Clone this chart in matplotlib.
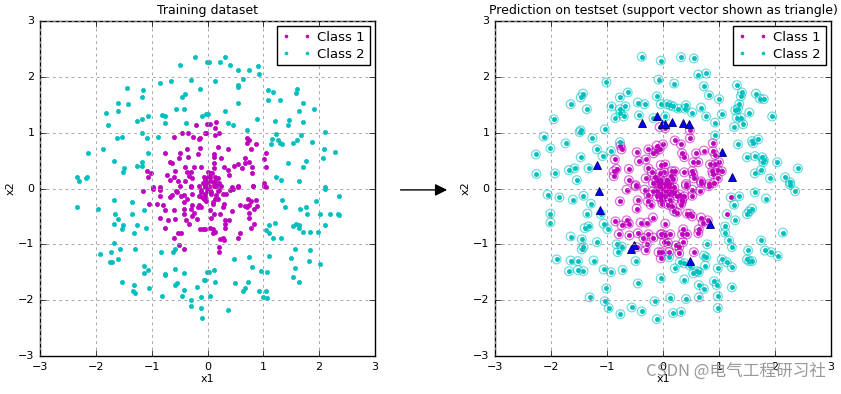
import matplotlib; matplotlib.use("Agg")
import matplotlib.pyplot as plt
import numpy as np
from matplotlib.patches import FancyArrowPatch

plt.style.use("classic")

# training set (x1, x2)
train_class1 = np.array([
 [-0.20,1.13],[-0.01,1.16],[-0.45,1.00],[-0.35,1.00],[-0.04,1.00],[-0.60,0.93],[-0.26,0.93],[-0.13,0.91],[-0.15,0.88],
 [-0.36,0.71],[-0.13,0.73],[-0.77,0.63],[-0.49,0.63],[-0.17,0.61],[-0.35,0.57],[-0.51,0.55],[-0.67,0.48],[-0.63,0.45],
 [-0.40,0.39],[-0.11,0.38],[-0.24,0.38],[-0.58,0.32],[-1.08,0.32],[-1.01,0.27],[-0.36,0.29],[-0.29,0.29],[-0.72,0.25],
 [-0.60,0.21],[-1.06,0.21],[-0.33,0.23],[-0.67,0.16],[-0.52,0.14],[-0.40,0.13],[-0.27,0.18],[-0.04,0.07],[-0.08,0.09],
 [-0.01,0.11],[-0.97,0.02],[-0.86,0.02],[-0.29,0.04],[-0.49,0.04],
 [0.04,1.16],[0.16,1.20],[0.14,1.09],[-0.02,1.00],[0.13,0.95],[0.21,1.00],[0.18,0.75],[0.36,0.70],[0.11,0.61],[0.11,0.57],
 [0.25,0.55],[0.00,0.30],[0.11,0.36],[0.11,0.46],[0.29,0.38],[0.36,0.34],[0.38,0.25],[0.48,0.41],[0.55,0.43],[0.61,0.36],
 [0.68,0.55],[0.68,0.46],[0.75,0.48],[0.80,0.38],[0.79,0.27],[0.70,0.91],[0.71,0.82],[0.75,0.86],[0.86,0.80],[0.77,0.70],
 [1.04,0.64],[1.02,0.52],[1.05,0.39],[0.04,0.20],[0.07,0.14],[0.13,0.21],[0.14,0.13],[0.18,0.18],[0.21,0.09],[-0.04,0.09],
 [0.02,0.04],[0.25,0.04],[0.43,0.02],[0.54,0.04],[0.82,0.05],[1.02,0.09],[0.05,0.27],[-0.04,0.16],
 [-1.15,-0.05],[-0.97,0.00],[-0.86,-0.02],[-0.56,-0.04],[-0.54,-0.07],[-0.63,-0.11],[-0.67,-0.16],[-0.47,-0.13],[-0.43,-0.11],
 [-0.36,-0.18],[-0.29,0.02],[-0.27,-0.09],[-0.15,-0.14],[-0.11,-0.07],[-0.10,-0.16],[-0.06,-0.18],[-0.04,0.02],[-0.01,-0.04],
 [-0.85,-0.14],[-1.04,-0.27],[-0.90,-0.27],[-0.79,-0.29],[-0.42,-0.25],[-0.76,-0.38],[-0.60,-0.39],[-0.42,-0.36],[-0.29,-0.36],
 [-0.27,-0.30],[-0.15,-0.29],[-0.17,-0.34],[-0.11,-0.34],[-0.24,-0.43],[-0.27,-0.50],[-0.43,-0.45],[-0.85,-0.52],[-0.70,-0.57],
 [-0.58,-0.54],[-0.38,-0.57],[-0.18,-0.54],[-0.33,-0.64],[-0.76,-0.71],[-0.52,-0.79],[-0.47,-0.79],[-0.13,-0.73],[-0.08,-0.73],
 [-0.60,-0.89],[-0.51,-1.02],[-0.42,-1.09],
 [-0.04,0.05],[0.00,0.00],[0.05,-0.02],[0.11,0.04],[0.16,0.05],[0.21,-0.02],[-0.04,-0.16],[0.07,-0.09],[0.13,-0.18],[0.18,-0.18],
 [0.04,-0.39],[0.07,-0.52],[0.11,-0.45],[0.23,-0.45],[0.09,-0.27],[0.18,-0.05],[0.27,-0.09],[0.34,-0.09],[0.41,-0.02],[0.45,0.00],
 [0.54,0.02],[0.82,0.04],[1.02,0.05],[1.05,0.02],[0.27,-0.34],[0.30,-0.27],[0.43,-0.41],[0.32,-0.57],[0.38,-0.57],[0.32,-0.64],
 [0.32,-0.71],[0.05,-0.70],[0.09,-0.73],[0.14,-0.77],[0.09,-0.80],[-0.04,-0.73],[0.23,-0.91],[0.27,-0.88],[0.29,-0.93],[0.20,-1.04],
 [0.20,-1.13],[0.55,-0.89],[0.59,-0.80],[0.59,-0.29],[0.73,-0.18],[0.77,-0.23],[0.68,-0.32],[0.71,-0.34],[0.75,-0.30],[0.86,-0.21],
 [0.84,-0.36],[0.88,-0.32],[0.75,-0.43],[0.75,-0.52],[0.84,-0.64],[0.77,-0.70],
 [0.03,0.15],[-0.07,0.20],[0.06,-0.07],[-0.12,-0.02],[0.12,0.10],[-0.02,-0.22],[0.08,0.28],[-0.15,0.05],[0.15,-0.12],
 [-0.05,-0.10],[0.00,0.20],[0.10,-0.25]])

train_class2 = np.array([
 [-0.22,2.36],[-0.01,2.27],[-0.49,2.21],[-0.30,1.95],[-0.86,1.89],[-0.65,1.93],[-0.13,1.79],[-1.45,1.80],[-1.15,1.77],
 [-1.18,1.63],[-0.40,1.70],[-0.45,1.64],[-1.60,1.54],[-1.42,1.52],[-1.60,1.39],[-1.81,1.36],[-0.57,1.42],[-0.42,1.42],
 [-0.02,1.33],[-0.10,1.29],[-0.81,1.32],[-0.76,1.30],[-1.06,1.30],[-1.17,1.25],[-1.27,1.21],[-0.77,1.18],[-0.38,1.18],
 [-1.79,1.14],[-1.18,1.00],[-1.63,0.91],[-1.54,0.93],[-1.08,0.91],[-0.88,0.93],[-1.88,0.71],[-2.14,0.64],[-1.06,0.63],
 [-1.67,0.50],[-1.17,0.48],[-1.27,0.41],[-1.18,0.41],[-1.49,0.36],[-1.51,0.29],[-2.33,0.21],[-2.15,0.21],[-2.17,0.18],
 [-2.31,0.14],
 [0.02,2.27],[0.23,2.27],[0.32,2.36],[0.41,2.21],[0.54,2.13],[0.75,2.13],[0.91,2.20],[0.93,2.05],[0.64,1.96],[0.14,1.93],
 [0.55,1.86],[0.55,1.82],[1.09,1.77],[1.18,1.73],[1.61,1.79],[1.59,1.71],[1.09,1.59],[1.29,1.59],[1.71,1.54],[0.55,1.54],
 [0.32,1.38],[1.64,1.39],[1.91,1.43],[0.00,1.34],[0.88,1.25],[0.36,1.18],[0.46,1.14],[1.20,1.21],[1.46,1.23],[1.45,1.13],
 [1.71,1.20],[0.71,1.05],[2.11,1.02],[1.23,0.98],[1.68,0.96],[1.16,0.88],[1.27,0.86],[1.30,0.82],[1.34,0.80],[1.54,0.82],
 [1.61,0.86],[1.88,0.84],[1.14,0.79],[2.09,0.71],[2.29,0.66],[2.07,0.55],[1.77,0.50],[1.45,0.45],[1.71,0.38],[1.23,0.20],
 [1.32,0.16],[1.64,0.13],[2.11,0.02],
 [-2.33,-0.34],[-1.97,-0.36],[-1.67,-0.20],[-1.35,-0.25],[-1.13,-0.38],[-1.36,-0.45],[-1.65,-0.46],[-1.61,-0.55],[-1.67,-0.63],
 [-1.52,-0.66],[-1.54,-0.73],[-1.26,-0.66],[-1.11,-0.70],[-1.31,-0.80],[-1.68,-0.98],[-1.56,-1.09],[-1.29,-1.09],[-1.93,-1.18],
 [-1.72,-1.14],[-1.74,-1.32],[-1.71,-1.32],[-1.61,-1.27],[-0.83,-1.13],[-0.61,-1.14],[-0.58,-1.09],[-1.13,-1.39],[-1.06,-1.46],
 [-1.13,-1.52],[-0.77,-1.54],[-0.76,-1.55],[-0.58,-1.45],[-0.43,-1.52],[-1.54,-1.68],[-1.31,-1.73],[-1.33,-1.84],[-1.29,-1.88],
 [-1.04,-1.79],[-0.81,-1.93],[-0.58,-1.73],[-0.54,-1.70],[-0.42,-1.82],[-0.45,-1.93],[-0.18,-1.77],[-0.11,-1.95],[-0.06,-1.64],
 [-0.01,-1.50],[-0.29,-2.00],[-0.29,-2.11],[-0.11,-2.14],[-0.10,-2.32],
 [2.11,0.00],[2.36,-0.13],[1.34,-0.21],[1.39,-0.34],[1.66,-0.36],[1.77,-0.34],[1.95,-0.23],[1.79,-0.46],[2.02,-0.45],[2.20,-0.45],
 [2.34,-0.45],[2.36,-0.48],[1.20,-0.61],[1.11,-0.66],[1.04,-0.75],[1.11,-0.79],[1.18,-0.89],[1.32,-0.89],[1.54,-0.68],[1.59,-0.64],
 [1.63,-0.66],[1.64,-0.71],[1.71,-0.78],[1.84,-0.78],[1.98,-0.78],[2.11,-0.66],[0.75,-1.23],[1.11,-1.21],[0.48,-1.27],[0.80,-1.41],
 [0.96,-1.48],[1.07,-1.50],[1.50,-1.25],[1.57,-1.09],[1.84,-1.11],[1.82,-1.30],[2.02,-1.35],[1.57,-1.43],[1.54,-1.59],[1.64,-1.68],
 [0.02,-1.50],[0.11,-1.46],[-0.04,-1.64],[0.14,-1.68],[0.50,-1.70],[0.73,-1.68],[0.68,-1.79],[0.63,-1.83],[0.93,-1.84],[1.04,-1.84],
 [1.00,-1.95],[1.07,-1.96],[0.04,-1.93],[0.36,-2.18]])

# test set, true labels (dots); rings show the predicted label
test_class1 = np.array([
 [-0.06,1.10],[-0.76,0.77],[-0.74,0.70],[-0.47,0.65],[-0.43,0.49],[-0.31,0.52],[-0.26,0.70],[-0.17,0.63],[-0.11,0.77],
 [-0.06,0.70],[-0.13,0.67],[-0.86,0.52],[-0.83,0.35],[-0.88,0.31],[-0.88,0.22],[-0.61,0.35],[-0.26,0.36],[-0.20,0.29],
 [-0.06,0.27],[-0.04,0.42],[-0.31,0.18],[-0.61,0.15],[-0.49,0.06],[-0.11,0.15],[-0.15,0.20],[-0.08,0.10],[-0.18,0.10],
 [0.04,1.08],[0.48,1.04],[0.48,0.90],[0.21,0.86],[0.32,0.79],[0.00,0.79],[0.34,0.63],[0.38,0.56],[0.59,0.63],[0.73,0.68],
 [0.89,0.81],[0.89,0.67],[0.93,0.60],[0.54,0.47],[0.63,0.47],[0.84,0.43],[0.93,0.43],[1.00,0.47],[0.98,0.33],[0.88,0.31],
 [1.05,0.31],[0.89,0.26],[0.38,0.29],[0.52,0.31],[0.54,0.26],[0.04,0.43],[0.16,0.31],[0.21,0.31],[0.02,0.29],[0.14,0.22],
 [0.18,0.17],[-0.04,0.15],[0.07,0.15],[0.11,0.08],[0.41,0.08],[0.68,0.13],[0.82,0.08],[0.98,0.18],[0.55,0.18],
 [-0.65,-0.02],[-0.49,0.04],[-0.33,-0.02],[-0.26,-0.11],[-0.18,-0.05],[-0.11,-0.14],[-0.04,-0.09],[-0.08,0.04],[-0.01,-0.27],
 [-0.22,-0.29],[-0.27,-0.23],[-0.45,-0.21],[-0.47,-0.36],[-0.77,-0.23],[-0.85,-0.59],[-0.74,-0.66],[-0.65,-0.57],[-0.61,-0.63],
 [-0.79,-0.82],[-0.60,-0.84],[-0.45,-0.80],[-0.40,-0.61],[-0.29,-0.61],[-0.18,-0.52],[-0.35,-0.89],[-0.26,-0.82],[-0.17,-0.88],
 [-0.04,-0.82],[-0.29,-1.00],[-0.31,-1.11],[-0.47,-1.05],[-0.08,-1.14],
 [0.00,0.07],[0.11,0.04],[0.16,-0.05],[0.20,0.02],[0.04,-0.14],[-0.04,-0.16],[0.25,-0.14],[0.30,-0.11],[0.34,-0.20],[0.38,-0.14],
 [0.41,0.05],[0.52,-0.02],[0.52,-0.13],[0.66,-0.04],[0.68,0.10],[0.82,0.04],[0.91,0.10],[0.09,-0.29],[0.16,-0.32],[0.20,-0.41],
 [0.25,-0.43],[0.32,-0.29],[0.34,-0.23],[0.43,-0.45],[0.48,-0.45],[0.52,-0.50],[0.68,-0.52],[0.71,-0.61],[0.80,-0.57],[0.04,-0.63],
 [-0.02,-0.82],[0.04,-0.84],[0.13,-0.82],[0.02,-0.96],[0.09,-0.98],[0.23,-1.02],[0.29,-1.05],[0.36,-0.96],[0.34,-0.82],[0.43,-0.82],
 [0.64,-0.73],[0.63,-0.80],[0.36,-0.73],[-0.02,-1.14],[0.11,-1.14],[0.29,-1.16],[0.55,-1.14],[-0.04,-1.25],
 [0.00,0.00],[0.05,-0.05],[-0.05,0.05],[0.10,-0.10],[0.15,0.00],[-0.10,-0.05],[0.20,-0.08],[0.05,0.10],[-0.03,-0.20],[0.12,-0.20]])

test_class2 = np.array([
 [-0.38,2.36],[-0.04,2.29],[-0.08,1.95],[-1.01,1.90],[-0.63,1.72],[-1.43,1.70],[-1.47,1.63],[-0.77,1.63],[-0.11,1.65],
 [-1.65,1.51],[-1.36,1.42],[-0.92,1.47],[-0.77,1.42],[-0.67,1.47],[-0.45,1.54],[-0.33,1.51],[-0.04,1.51],[-0.76,1.35],
 [-0.85,1.26],[-0.70,1.29],[-0.43,1.31],[-0.17,1.26],[-1.95,1.24],[-1.47,1.04],[-1.49,1.01],[-1.04,1.06],[-2.13,0.93],
 [-2.01,0.72],[-1.74,0.81],[-1.26,0.90],[-1.18,0.70],[-0.77,0.83],[-0.93,0.67],[-1.08,0.58],[-1.47,0.56],[-2.27,0.61],
 [-2.26,0.26],[-1.93,0.27],[-1.68,0.33],[-1.58,0.36],[-1.33,0.36],[-1.54,0.15],
 [0.32,2.35],[0.55,2.33],[0.63,2.04],[0.77,2.06],[0.20,1.88],[0.73,1.83],[1.32,1.85],[0.82,1.67],[1.00,1.60],[1.41,1.72],
 [1.39,1.65],[1.66,1.70],[1.73,1.61],[1.80,1.60],[0.07,1.51],[0.13,1.49],[0.18,1.47],[0.27,1.43],[0.41,1.49],[0.39,1.43],
 [0.68,1.45],[0.52,1.36],[1.36,1.51],[1.34,1.43],[1.29,1.40],[1.54,1.36],[1.05,1.33],[0.77,1.29],[1.32,1.27],[1.39,1.27],
 [1.95,1.29],[0.04,1.29],[0.93,1.18],[1.43,1.15],[1.27,1.10],[0.93,0.95],[1.34,0.79],[1.59,0.85],[1.61,0.81],[1.70,0.88],
 [1.50,0.56],[1.64,0.58],[1.77,0.56],[1.80,0.51],[1.79,0.47],[2.04,0.47],[2.41,0.36],[1.64,0.27],[1.75,0.33],[1.91,0.18],
 [2.18,0.20],[2.27,0.11],
 [-2.06,-0.11],[-1.85,-0.16],[-1.61,-0.20],[-1.42,-0.13],[-1.29,-0.27],[-2.01,-0.45],[-2.01,-0.61],[-1.35,-0.45],[-1.11,-0.46],
 [-1.40,-0.71],[-1.33,-0.68],[-1.06,-0.63],[-0.99,-0.73],[-1.65,-0.86],[-1.45,-0.91],[-1.18,-0.96],[-1.45,-1.09],[-1.42,-1.05],
 [-0.83,-1.00],[-0.74,-1.04],[-0.81,-1.14],[-1.90,-1.27],[-1.65,-1.29],[-1.52,-1.30],[-1.24,-1.29],[-1.68,-1.48],[-1.52,-1.46],
 [-1.42,-1.48],[-1.06,-1.45],[-0.93,-1.50],[-0.72,-1.46],[-0.49,-1.30],[-0.45,-1.70],[-0.04,-1.61],[-1.01,-1.79],[-1.31,-1.95],
 [-1.04,-2.02],[-0.97,-2.14],[-0.76,-2.25],[-0.56,-2.13],[-0.38,-2.20],[-0.15,-2.02],[-0.11,-2.34],
 [2.27,0.07],[2.36,-0.05],[1.64,-0.07],[1.84,-0.18],[1.36,-0.14],[1.27,-0.29],[1.59,-0.36],[1.54,-0.41],[1.50,-0.46],
 [1.29,-0.57],[2.14,-0.79],[1.11,-0.68],[1.11,-0.79],[1.18,-0.93],[1.23,-1.05],[0.79,-1.00],[1.75,-0.93],[1.52,-1.11],
 [1.82,-1.11],[1.93,-1.14],[2.05,-1.21],[0.73,-1.20],[0.77,-1.23],[1.05,-1.27],[1.14,-1.32],[1.23,-1.41],[1.50,-1.27],
 [1.54,-1.30],[1.59,-1.30],[0.11,-1.23],[0.30,-1.32],[0.38,-1.34],[0.48,-1.38],[0.75,-1.38],[0.21,-1.43],[0.54,-1.52],
 [0.61,-1.48],[0.64,-1.50],[0.98,-1.43],[0.38,-1.63],[0.91,-1.66],[0.96,-1.73],[0.64,-1.73],[0.73,-1.80],[1.23,-1.77],
 [0.98,-1.93],[0.13,-1.96],[0.41,-1.98],[0.64,-1.95],[0.98,-2.14],[0.18,-2.23],[0.32,-2.21]])

# class 1 points that the classifier put in class 2
test_wrong = np.array([[1.21,-0.16],[1.14,-0.46]])

support_vectors = np.array([
 [-0.38,1.18],[-0.10,1.29],[-0.01,1.15],[-1.18,0.42],[0.04,1.16],[0.16,1.20],[0.36,1.18],[0.46,1.15],[1.05,0.65],
 [1.23,0.20],[-1.15,-0.05],[-1.13,-0.38],[-0.51,-1.02],[-0.58,-1.09],[0.84,-0.64],[0.48,-1.29]])

fig = plt.figure(figsize=(8.41, 3.94), facecolor="white")
ax1 = fig.add_axes([0.0476, 0.0964, 0.3983, 0.8503])
ax2 = fig.add_axes([0.5886, 0.0964, 0.3995, 0.8503])

ax1.plot(train_class1[:,0], train_class1[:,1], "m.", label="Class 1")
ax1.plot(train_class2[:,0], train_class2[:,1], "c.", label="Class 2")
ax1.set_title("Training dataset", fontsize=9)

ring = dict(s=40, facecolors="none", linewidths=0.9, alpha=0.55)
ax2.scatter(test_class1[:,0], test_class1[:,1], edgecolors="m", **ring)
ax2.scatter(test_class2[:,0], test_class2[:,1], edgecolors="c", **ring)
ax2.scatter(test_wrong[:,0], test_wrong[:,1], edgecolors="c", **ring)
ax2.plot(test_class1[:,0], test_class1[:,1], "m.", label="Class 1")
ax2.plot(test_class2[:,0], test_class2[:,1], "c.", label="Class 2")
ax2.plot(test_wrong[:,0], test_wrong[:,1], "m.")
ax2.plot(support_vectors[:,0], support_vectors[:,1], "b^", markersize=6, markeredgecolor="#000060", markeredgewidth=0.6)
ax2.set_title("Prediction on testset (support vector shown as triangle)", fontsize=9)

for ax in (ax1, ax2):
    ax.set_xlim(-3, 3); ax.set_ylim(-3, 3)
    ax.set_xticks(range(-3, 4)); ax.set_yticks(range(-3, 4))
    ax.grid(True, color="#999999", linestyle=(0, (2, 2.5)), linewidth=0.6)
    ax.tick_params(labelsize=8)
    ax.set_xlabel("x1", fontsize=8, labelpad=2); ax.set_ylabel("x2", fontsize=8, labelpad=2)
    ax.legend(loc="upper right", fontsize=9.5, numpoints=2, markerscale=0.7, borderaxespad=0.4,
              handlelength=2.2, handletextpad=0.5, labelspacing=0.3, borderpad=0.35, fancybox=False)

fig.add_artist(FancyArrowPatch((0.473, 0.518), (0.535, 0.518), transform=fig.transFigure,
                               arrowstyle="-|>", mutation_scale=18, color="k", lw=1.0))

fig.text(0.982, 0.035, "CSDN @电气工程研习社", ha="right", va="bottom", fontsize=12, color="#999999",
         family=["Noto Sans CJK SC", "DejaVu Sans"])

fig.savefig("out.png", dpi=100, facecolor="white")
